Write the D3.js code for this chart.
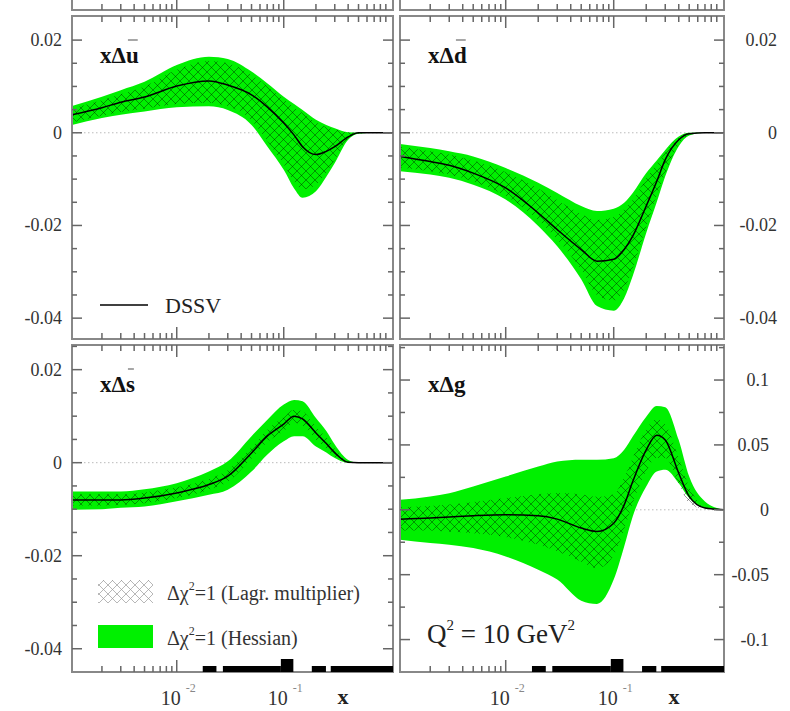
<!DOCTYPE html>
<meta charset="utf-8">
<script src="https://cdn.jsdelivr.net/npm/d3@7"></script>
<style>
  body { margin: 0; background: #fff; }
  svg { display: block; font-family: "Liberation Serif", "DejaVu Serif", serif; }
  .frame { fill: none; stroke: #888; stroke-width: 2; }
  .tick { stroke: #666; stroke-width: 1.5; }
  .ylab { font-size: 18px; fill: #333; }
  .plabel { font-size: 23px; font-weight: bold; fill: #111; }
</style>
<svg width="790" height="711"></svg>
<script>
// common x grid (Bjorken x) the curves were read at
var xGrid = [0.00105, 0.002, 0.003, 0.005, 0.01, 0.02, 0.03, 0.05, 0.07, 0.1, 0.125, 0.15, 0.2, 0.25, 0.3, 0.4, 0.5, 0.7, 1.05];

// x Delta u-bar
var ubarDSSV   = [0.0039, 0.0054, 0.0066, 0.0077, 0.0101, 0.0112, 0.0103, 0.0082, 0.0056, 0.0021, -0.0005, -0.0030, -0.0047, -0.0040, -0.0030, -0.0009, 0, 0, 0];
var ubarHessHi = [0.0058, 0.0078, 0.0092, 0.0110, 0.0146, 0.0164, 0.0159, 0.0132, 0.0107, 0.0078, 0.0062, 0.0049, 0.0028, 0.0017, 0.0010, 0.0001, 0, 0, 0];
var ubarHessLo = [0.0017, 0.0032, 0.0039, 0.0046, 0.0055, 0.0057, 0.0049, 0.0017, -0.0029, -0.0080, -0.0120, -0.0140, -0.0126, -0.0095, -0.0065, -0.0015, -0.0002, 0, 0];
var ubarLagrHi = [0.0052, 0.0070, 0.0083, 0.0100, 0.0136, 0.0155, 0.0150, 0.0125, 0.0100, 0.0072, 0.0055, 0.0042, 0.0022, 0.0012, 0.0007, 0.0001, 0, 0, 0];
var ubarLagrLo = [0.0022, 0.0037, 0.0045, 0.0052, 0.0062, 0.0065, 0.0057, 0.0027, -0.0017, -0.0068, -0.0105, -0.0122, -0.0112, -0.0085, -0.0058, -0.0013, -0.0002, 0, 0];

// x Delta d-bar
var dbarDSSV   = [-0.0051, -0.0062, -0.0070, -0.0087, -0.0119, -0.0173, -0.0209, -0.0252, -0.0277, -0.0273, -0.0252, -0.0223, -0.0158, -0.0105, -0.0058, -0.0015, -0.0002, 0, 0];
var dbarHessHi = [-0.0024, -0.0033, -0.0040, -0.0051, -0.0076, -0.0108, -0.0130, -0.0158, -0.0169, -0.0164, -0.0151, -0.0130, -0.0087, -0.0060, -0.0037, -0.0008, 0, 0, 0];
var dbarHessLo = [-0.0083, -0.0090, -0.0097, -0.0112, -0.0144, -0.0201, -0.0245, -0.0316, -0.0374, -0.0384, -0.0357, -0.0309, -0.0216, -0.0150, -0.0094, -0.0029, -0.0006, 0, 0];
var dbarLagrHi = [-0.0030, -0.0040, -0.0047, -0.0060, -0.0085, -0.0120, -0.0145, -0.0175, -0.0188, -0.0182, -0.0165, -0.0145, -0.0098, -0.0067, -0.0043, -0.0010, -0.0001, 0, 0];
var dbarLagrLo = [-0.0075, -0.0083, -0.0090, -0.0105, -0.0136, -0.0188, -0.0230, -0.0295, -0.0350, -0.0362, -0.0338, -0.0292, -0.0203, -0.0135, -0.0087, -0.0026, -0.0005, 0, 0];

// x Delta s-bar
var sbarDSSV   = [-0.0080, -0.0080, -0.0080, -0.0076, -0.0065, -0.0047, -0.0029, 0.0021, 0.0057, 0.0083, 0.0100, 0.0094, 0.0064, 0.0041, 0.0021, 0.0001, 0, 0, 0];
var sbarHessHi = [-0.0062, -0.0062, -0.0062, -0.0057, -0.0044, -0.0019, 0.0003, 0.0057, 0.0092, 0.0125, 0.0135, 0.0132, 0.0096, 0.0068, 0.0039, 0.0006, 0, 0, 0];
var sbarHessLo = [-0.0101, -0.0100, -0.0097, -0.0094, -0.0083, -0.0069, -0.0058, -0.0019, 0.0017, 0.0046, 0.0057, 0.0057, 0.0035, 0.0022, 0.0010, 0, 0, 0, 0];
var sbarLagrHi = [-0.0068, -0.0068, -0.0068, -0.0064, -0.0053, -0.0035, -0.0016, 0.0033, 0.0070, 0.0098, 0.0114, 0.0110, 0.0078, 0.0054, 0.0030, 0.0003, 0, 0, 0];
var sbarLagrLo = [-0.0092, -0.0092, -0.0091, -0.0087, -0.0076, -0.0058, -0.0041, 0.0009, 0.0044, 0.0068, 0.0086, 0.0080, 0.0050, 0.0030, 0.0013, 0, 0, 0, 0];

// x Delta g
var gDSSV   = [-0.0072, -0.0064, -0.0056, -0.0046, -0.0038, -0.0046, -0.0072, -0.0141, -0.0167, -0.0103, 0.0038, 0.0218, 0.0462, 0.0574, 0.0538, 0.0282, 0.0103, 0.0013, 0];
var gHessHi = [0.0077, 0.0103, 0.0128, 0.0179, 0.0256, 0.0333, 0.0372, 0.0385, 0.0385, 0.0397, 0.0462, 0.0564, 0.0718, 0.0800, 0.0790, 0.0538, 0.0256, 0.0064, 0];
var gHessLo = [-0.0231, -0.0256, -0.0269, -0.0295, -0.0359, -0.0462, -0.0538, -0.0700, -0.0725, -0.0538, -0.0282, -0.0051, 0.0179, 0.0295, 0.0308, 0.0205, 0.0090, 0.0013, 0];
var gLagrHi = [0.0020, 0.0030, 0.0040, 0.0060, 0.0090, 0.0120, 0.0130, 0.0120, 0.0100, 0.0120, 0.0250, 0.0400, 0.0620, 0.0700, 0.0660, 0.0400, 0.0180, 0.0020, 0];
var gLagrLo = [-0.0160, -0.0160, -0.0170, -0.0180, -0.0210, -0.0270, -0.0320, -0.0400, -0.0450, -0.0350, -0.0150, 0.0050, 0.0300, 0.0400, 0.0400, 0.0200, 0.0050, 0.0005, 0];

// axes
var xDomain = [0.00105, 1.05];
var xMajorTicks = [0.01, 0.1];
var xMajorExp = ["-2", "-1"];
var quarkYMajor = [0.02, 0, -0.02, -0.04];
var quarkYLabels = ["0.02", "0", "-0.02", "-0.04"];
var quarkYMinor = [-0.045, -0.035, -0.03, -0.025, -0.015, -0.01, -0.005, 0.005, 0.01, 0.015, 0.025];
var gluonYMajor = [0.1, 0.05, 0, -0.05, -0.1];
var gluonYLabels = ["0.1", "0.05", "0", "-0.05", "-0.1"];
var gluonYMinor = [-0.125, -0.075, -0.025, 0.025, 0.075, 0.125];

// x ranges of the data sets marked along the lower axis
var thinBars = [[0.0175, 0.0235], [0.027, 0.094], [0.183, 0.248], [0.275, 1.05]];
var thickBars = [[0.094, 0.123]];

var svg = d3.select("svg");
var cols = [{x0: 72, x1: 393}, {x0: 400, x1: 724}];
var rows = [{y0: 16, y1: 339}, {y0: 345, y1: 672}];

var defs = svg.append("defs");
function hatch(id, color, op) {
    var p = defs.append("pattern").attr("id", id).attr("patternUnits", "userSpaceOnUse")
        .attr("width", 9).attr("height", 9);
    p.append("path").attr("d", "M-1,-1L10,10M-1,10L10,-1")
        .attr("stroke", color).attr("stroke-width", 1).attr("stroke-opacity", op).attr("fill", "none");
}
hatch("lagr", "#000", 0.38);
hatch("lagrKey", "#999", 0.7);

var xMinorTicks = [];
[0.001, 0.01, 0.1].forEach(function(d) {
    for (var k = 2; k <= 9; k++) if (d * k >= xDomain[0]) xMinorTicks.push(d * k);
});

var panels = [
    {col: 0, row: 0, name: "u", bar: true, mid: ubarDSSV, hi: ubarHessHi, lo: ubarHessLo, lhi: ubarLagrHi, llo: ubarLagrLo,
     yDom: [-0.0445, 0.0252], major: quarkYMajor, labels: quarkYLabels, minor: quarkYMinor, labX: 62},
    {col: 1, row: 0, name: "d", bar: true, mid: dbarDSSV, hi: dbarHessHi, lo: dbarHessLo, lhi: dbarLagrHi, llo: dbarLagrLo,
     yDom: [-0.0445, 0.0252], major: quarkYMajor, labels: quarkYLabels, minor: quarkYMinor, labX: 777},
    {col: 0, row: 1, name: "s", bar: true, mid: sbarDSSV, hi: sbarHessHi, lo: sbarHessLo, lhi: sbarLagrHi, llo: sbarLagrLo,
     yDom: [-0.045, 0.0253], major: quarkYMajor, labels: quarkYLabels, minor: quarkYMinor, labX: 62},
    {col: 1, row: 1, name: "g", bar: false, mid: gDSSV, hi: gHessHi, lo: gHessLo, lhi: gLagrHi, llo: gLagrLo,
     yDom: [-0.125, 0.127], major: gluonYMajor, labels: gluonYLabels, minor: gluonYMinor, labX: 769}
];

function xTicks(g, x, yBase, dir) {
    xMinorTicks.forEach(function(v) {
        g.append("line").attr("class", "tick").attr("x1", x(v)).attr("x2", x(v))
            .attr("y1", yBase).attr("y2", yBase + dir * 6);
    });
    xMajorTicks.forEach(function(v) {
        g.append("line").attr("class", "tick").attr("x1", x(v)).attr("x2", x(v))
            .attr("y1", yBase).attr("y2", yBase + dir * 12);
    });
}

// remains of the panels above (cut off)
cols.forEach(function(c) {
    var x = d3.scaleLog().domain(xDomain).range([c.x0, c.x1]);
    var g = svg.append("g");
    g.append("rect").attr("class", "frame").attr("x", c.x0).attr("y", -20).attr("width", c.x1 - c.x0).attr("height", 30);
    xTicks(g, x, 10, -1);
});

panels.forEach(function(p, i) {
    var c = cols[p.col], r = rows[p.row];
    var x = d3.scaleLog().domain(xDomain).range([c.x0, c.x1]);
    var y = d3.scaleLinear().domain(p.yDom).range([r.y1, r.y0]);
    var g = svg.append("g");

    defs.append("clipPath").attr("id", "clip" + i).append("rect")
        .attr("x", c.x0).attr("y", r.y0).attr("width", c.x1 - c.x0).attr("height", r.y1 - r.y0);
    var inner = g.append("g").attr("clip-path", "url(#clip" + i + ")");

    inner.append("line").attr("x1", c.x0).attr("x2", c.x1).attr("y1", y(0)).attr("y2", y(0))
        .attr("stroke", "#bbb").attr("stroke-width", 1).attr("stroke-dasharray", "1.5,2.5");

    var band = function(hi, lo) {
        return d3.area().curve(d3.curveMonotoneX)
            .x(function(d, k) { return x(xGrid[k]); })
            .y0(function(d, k) { return y(lo[k]); })
            .y1(function(d, k) { return y(hi[k]); })(xGrid);
    };
    inner.append("path").attr("d", band(p.hi, p.lo)).attr("fill", "#00f000");
    inner.append("path").attr("d", band(p.lhi, p.llo)).attr("fill", "url(#lagr)");
    inner.append("path")
        .attr("d", d3.line().curve(d3.curveMonotoneX)
            .x(function(d, k) { return x(xGrid[k]); })
            .y(function(d, k) { return y(p.mid[k]); })(xGrid))
        .attr("fill", "none").attr("stroke", "#000").attr("stroke-width", 1.5);

    g.append("rect").attr("class", "frame").attr("x", c.x0).attr("y", r.y0)
        .attr("width", c.x1 - c.x0).attr("height", r.y1 - r.y0);

    xTicks(g, x, r.y0, 1);
    xTicks(g, x, r.y1, -1);
    [c.x0, c.x1].forEach(function(xe, s) {
        var dir = s == 0 ? 1 : -1;
        p.minor.forEach(function(v) {
            if (y(v) > r.y0 + 1 && y(v) < r.y1 - 1)
                g.append("line").attr("class", "tick").attr("x1", xe).attr("x2", xe + dir * 5).attr("y1", y(v)).attr("y2", y(v));
        });
        p.major.forEach(function(v) {
            g.append("line").attr("class", "tick").attr("x1", xe).attr("x2", xe + dir * 10).attr("y1", y(v)).attr("y2", y(v));
        });
    });

    // black bars along the lower axis, over the ticks
    if (p.row == 1) {
        var bars = g.append("g").attr("clip-path", "url(#clip" + i + ")");
        thinBars.forEach(function(b) {
            bars.append("rect").attr("x", x(b[0])).attr("width", x(b[1]) - x(b[0]))
                .attr("y", r.y1 - 6).attr("height", 6).attr("fill", "#000");
        });
        thickBars.forEach(function(b) {
            bars.append("rect").attr("x", x(b[0])).attr("width", x(b[1]) - x(b[0]))
                .attr("y", r.y1 - 13).attr("height", 13).attr("fill", "#000");
        });
    }

    p.major.forEach(function(v, k) {
        g.append("text").attr("class", "ylab").attr("x", p.labX).attr("y", y(v) + 6)
            .attr("text-anchor", "end").text(p.labels[k]);
    });

    if (p.row == 1) {
        xMajorTicks.forEach(function(v, k) {
            var t = g.append("text").attr("x", x(v) - 16).attr("y", 705).attr("fill", "#333").style("font-size", "20px");
            t.append("tspan").text("10");
            t.append("tspan").attr("dx", 5).attr("dy", -13).style("font-size", "12px").attr("fill", "#888").text(xMajorExp[k]);
        });
        g.append("text").attr("x", c.x1 - 50).attr("y", 704).attr("text-anchor", "middle")
            .style("font-size", "22px").style("font-weight", "bold").attr("fill", "#222").text("x");
    }

    // panel label
    var lx = c.x0 + 28, ly = r.y0 + 47;
    var t1 = g.append("text").attr("class", "plabel").attr("x", lx).attr("y", ly).text("x\u0394");
    var w1 = t1.node().getComputedTextLength();
    var t2 = g.append("text").attr("class", "plabel").attr("x", lx + w1).attr("y", ly).text(p.name);
    if (p.bar) {
        var w2 = t2.node().getComputedTextLength();
        g.append("line").attr("x1", lx + w1 + 2).attr("x2", lx + w1 + w2 - 1)
            .attr("y1", ly - 23).attr("y2", ly - 23).attr("stroke", "#777").attr("stroke-width", 1.3);
    }
});

// DSSV legend
svg.append("line").attr("x1", 100).attr("x2", 148).attr("y1", 305).attr("y2", 305).attr("stroke", "#000").attr("stroke-width", 1.5);
svg.append("text").attr("x", 165).attr("y", 313).style("font-size", "22px").attr("fill", "#222").text("DSSV");

// band legend
var keys = [
    {fill: "url(#lagrKey)", y: 580, text: "=1 (Lagr. multiplier)"},
    {fill: "#00f000", y: 625, text: "=1 (Hessian)"}
];
keys.forEach(function(k) {
    svg.append("rect").attr("x", 98).attr("y", k.y).attr("width", 55).attr("height", 23).attr("fill", k.fill);
    var t = svg.append("text").attr("x", 167).attr("y", k.y + 20).style("font-size", "20px").attr("fill", "#333");
    t.append("tspan").text("\u0394\u03c7");
    t.append("tspan").attr("dy", -10).style("font-size", "12px").text("2");
    t.append("tspan").attr("dy", 10).text(k.text);
});

// scale label
var q = svg.append("text").attr("x", 427).attr("y", 643).style("font-size", "27px").attr("fill", "#222");
q.append("tspan").text("Q");
q.append("tspan").attr("dy", -13).style("font-size", "15px").text("2");
q.append("tspan").attr("dy", 13).text(" = 10 GeV");
q.append("tspan").attr("dy", -13).style("font-size", "15px").text("2");
</script>
